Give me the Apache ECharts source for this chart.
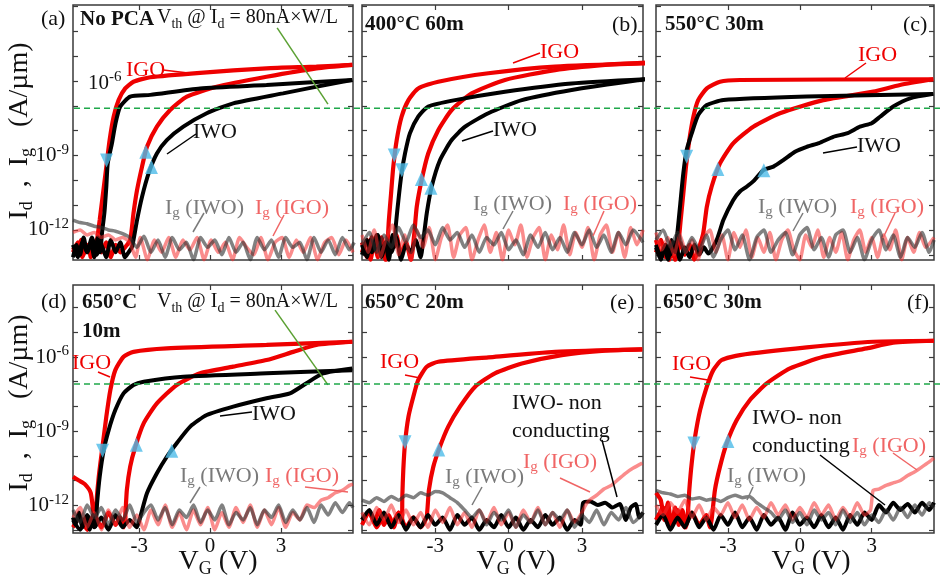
<!DOCTYPE html>
<html>
<head>
<meta charset="utf-8">
<script src="https://cdn.jsdelivr.net/npm/echarts@6/dist/echarts.min.js"></script>
<style>
  html, body { margin: 0; background: #fff; }
  #chart { width: 942px; height: 578px; }
</style>
</head>
<body>
<div id="chart"></div>
<script>
// x = V_G (V), y = log10(I / (A/µm))

// (a) No PCA
const aIgoRev = [[6.02,-5.35],[4.5,-5.42],[2.39,-5.49],[-0.42,-5.67],[-2.53,-5.85],[-3.24,-6.03],[-3.59,-6.3],[-3.87,-6.77],[-4.08,-7.44],[-4.25,-8.38],[-4.39,-9.46],[-4.53,-10.53],[-4.67,-11.6],[-4.78,-12.41],[-4.85,-13.0],[-4.95,-12.5],[-5.05,-13.1],[-5.15,-12.6],[-5.3,-12.9],[-5.45,-12.4],[-5.6,-13.0],[-5.8,-12.7]]
const aIgoFwd = [[-5.8,-12.9],[-5.6,-12.5],[-5.4,-13.1],[-5.2,-12.6],[-5.0,-13.0],[-4.8,-12.4],[-4.6,-12.9],[-4.4,-12.5],[-4.2,-13.1],[-4.0,-12.6],[-3.8,-12.9],[-3.6,-12.7],[-3.38,-12.4],[-3.24,-11.33],[-3.09,-10.4],[-2.88,-9.46],[-2.67,-8.65],[-2.25,-7.84],[-1.69,-7.17],[-0.98,-6.63],[0.28,-6.23],[2.39,-5.83],[4.5,-5.49],[6.02,-5.35]]
const aIwoRev = [[6.02,-5.96],[2.39,-6.16],[-0.42,-6.3],[-2.53,-6.56],[-3.38,-6.63],[-3.8,-7.03],[-4.0,-7.7],[-4.15,-8.5],[-4.33,-9.32],[-4.39,-10.26],[-4.47,-11.3],[-4.57,-12.1],[-4.65,-12.9],[-4.75,-12.3],[-4.9,-13.1],[-5.05,-12.5],[-5.2,-12.9],[-5.35,-12.3],[-5.5,-13.0],[-5.65,-12.6],[-5.8,-13.1]]
const aIwoFwd = [[-5.8,-12.6],[-5.6,-13.1],[-5.4,-12.5],[-5.2,-12.9],[-5.0,-12.3],[-4.8,-13.0],[-4.6,-12.6],[-4.4,-13.1],[-4.2,-12.4],[-4.0,-12.9],[-3.8,-12.5],[-3.6,-13.1],[-3.45,-12.9],[-3.3,-12.68],[-3.09,-11.6],[-2.88,-10.67],[-2.6,-9.72],[-2.25,-8.92],[-1.83,-8.38],[-1.13,-7.84],[-0.14,-7.3],[0.98,-6.9],[3.09,-6.5],[5.2,-6.1],[6.02,-5.96]]
const aIgIwo = [[-5.8,-11.6],[-5.5,-11.7],[-5.2,-11.75],[-4.9,-11.85],[-4.6,-11.9],[-4.3,-12.0],[-4.0,-12.05],[-3.7,-12.15],[-3.4,-12.3],[-3.1,-12.7],[-2.8,-12.25],[-2.5,-12.9],[-2.2,-12.4],[-1.9,-13.1],[-1.6,-12.3],[-1.3,-12.8],[-1.0,-12.5],[-0.7,-13.2],[-0.4,-12.3],[-0.1,-12.7],[0.2,-12.4],[0.5,-13.0],[0.8,-12.3],[1.1,-12.9],[1.4,-12.5],[1.7,-13.2],[2.0,-12.3],[2.3,-12.8],[2.6,-12.4],[2.9,-13.1],[3.2,-12.3],[3.5,-12.7],[3.8,-12.5],[4.1,-13.2],[4.4,-12.3],[4.7,-12.9],[5.0,-12.4],[5.3,-13.0],[5.6,-12.3],[5.9,-12.8],[6.1,-12.5]]
const aIgIgo = [[-5.8,-12.1],[-5.5,-12.0],[-5.2,-12.2],[-4.9,-12.1],[-4.6,-12.3],[-4.3,-12.2],[-4.0,-12.4],[-3.7,-12.3],[-3.4,-12.5],[-3.15,-13.1],[-2.95,-12.3],[-2.65,-13.2],[-2.35,-12.4],[-2.05,-12.9],[-1.75,-12.3],[-1.45,-13.1],[-1.15,-12.4],[-0.85,-12.8],[-0.55,-12.3],[-0.25,-13.2],[0.05,-12.4],[0.35,-12.9],[0.65,-12.5],[0.95,-13.2],[1.25,-12.3],[1.55,-12.7],[1.85,-13.0],[2.15,-12.3],[2.45,-13.2],[2.75,-12.5],[3.05,-12.3],[3.35,-13.1],[3.65,-12.4],[3.95,-12.9],[4.25,-12.3],[4.55,-13.2],[4.85,-12.5],[5.15,-12.3],[5.45,-13.0],[5.75,-12.4],[6.05,-12.9]]
const aDown = [[-4.38,-9.2]]
const aUp = [[-2.72,-8.85],[-2.48,-9.46]]
const aVthLine = [[2.84,-3.86],[4.99,-6.93]]

// (b) 400°C 60m
const bIgoRev = [[5.58,-5.29],[1.9,-5.42],[-0.83,-5.69],[-2.88,-6.03],[-3.7,-6.3],[-4.1,-6.77],[-4.38,-7.44],[-4.58,-8.38],[-4.72,-9.46],[-4.81,-10.53],[-4.9,-11.6],[-4.95,-12.41],[-5.05,-13.2],[-5.2,-12.3],[-5.35,-13.1],[-5.5,-12.5],[-5.65,-13.2],[-5.8,-12.4],[-6,-12.9]]
const bIgoFwd = [[-6,-12.5],[-5.8,-13.1],[-5.6,-12.3],[-5.4,-12.9],[-5.2,-12.4],[-5.0,-13.2],[-4.8,-12.6],[-4.6,-12.2],[-4.4,-13.0],[-4.2,-12.5],[-4.0,-13.2],[-3.86,-12.14],[-3.76,-11.07],[-3.56,-9.99],[-3.29,-8.92],[-2.88,-7.98],[-2.33,-7.17],[-1.51,-6.5],[-0.15,-5.96],[1.9,-5.56],[3.95,-5.35],[5.58,-5.26]]
const bIwoRev = [[5.58,-5.93],[2.58,-6.1],[-0.15,-6.43],[-2.19,-6.77],[-3.29,-7.03],[-3.7,-7.44],[-4.04,-8.11],[-4.24,-8.92],[-4.38,-9.72],[-4.51,-10.8],[-4.62,-11.88],[-4.67,-12.68],[-4.75,-12.2],[-4.9,-13.2],[-5.05,-12.5],[-5.2,-13.0],[-5.35,-12.2],[-5.5,-12.8],[-5.65,-12.4],[-5.8,-13.1],[-6,-12.6]]
const bIwoFwd = [[-6,-13.0],[-5.8,-12.4],[-5.6,-12.9],[-5.4,-12.2],[-5.2,-13.1],[-5.0,-12.5],[-4.8,-12.9],[-4.6,-12.3],[-4.4,-13.2],[-4.2,-12.6],[-4.0,-12.9],[-3.8,-12.4],[-3.6,-13.1],[-3.49,-12.41],[-3.35,-11.33],[-3.15,-10.26],[-2.81,-9.19],[-2.33,-8.38],[-1.78,-7.84],[-0.83,-7.3],[0.54,-6.77],[2.58,-6.36],[5.58,-5.93]]
const bIgIwo = [[-6,-12.6],[-5.7,-12.1],[-5.4,-12.9],[-5.1,-12.2],[-4.8,-12.7],[-4.5,-11.9],[-4.2,-12.5],[-3.9,-11.8],[-3.6,-12.3],[-3.3,-12.0],[-3.0,-12.6],[-2.7,-11.9],[-2.4,-12.4],[-2.1,-12.1],[-1.8,-12.7],[-1.5,-12.2],[-1.2,-12.9],[-0.9,-12.3],[-0.6,-12.6],[-0.3,-12.1],[0.0,-12.8],[0.3,-12.4],[0.6,-13.0],[0.9,-12.2],[1.2,-12.7],[1.5,-12.1],[1.8,-12.8],[2.1,-12.3],[2.4,-12.9],[2.7,-12.1],[3.0,-12.6],[3.3,-12.0],[3.6,-12.7],[3.9,-12.2],[4.2,-12.9],[4.5,-12.1],[4.8,-12.6],[5.1,-12.0],[5.5,-12.5]]
const bIgIgo = [[-6,-12.2],[-5.75,-12.9],[-5.5,-12.0],[-5.25,-13.1],[-5.0,-12.3],[-4.75,-11.8],[-4.5,-13.0],[-4.25,-12.2],[-4.0,-13.2],[-3.75,-12.0],[-3.5,-12.7],[-3.25,-11.9],[-3.0,-13.2],[-2.75,-12.3],[-2.5,-11.8],[-2.25,-13.1],[-2.0,-12.2],[-1.75,-11.9],[-1.5,-13.2],[-1.25,-12.4],[-1.0,-11.8],[-0.75,-12.9],[-0.5,-12.1],[-0.25,-13.2],[0.0,-12.0],[0.25,-12.6],[0.5,-11.8],[0.75,-13.1],[1.0,-12.3],[1.25,-11.9],[1.5,-13.2],[1.75,-12.2],[2.0,-12.8],[2.25,-11.8],[2.5,-13.0],[2.75,-12.1],[3.0,-12.7],[3.25,-11.9],[3.5,-13.2],[3.75,-12.2],[4.0,-11.8],[4.25,-12.9],[4.5,-12.1],[4.75,-13.1],[5.0,-11.9],[5.25,-12.6],[5.5,-12.0]]
const bDown = [[-4.68,-9.0],[-4.37,-9.6]]
const bUp = [[-3.57,-9.95],[-3.18,-10.3]]

// (c) 550°C 30m
const cIgoRev = [[5.57,-5.93],[-2.5,-5.96],[-3.33,-6.03],[-3.88,-6.3],[-4.24,-6.77],[-4.44,-7.44],[-4.61,-8.38],[-4.75,-9.46],[-4.86,-10.53],[-4.97,-11.6],[-5.05,-12.41],[-5.15,-13.1],[-5.3,-12.5],[-5.45,-13.2],[-5.6,-12.6],[-5.8,-13.0],[-6,-12.4]]
const cIgoFwd = [[-6,-12.9],[-5.8,-12.4],[-5.6,-13.1],[-5.4,-12.6],[-5.2,-13.2],[-5.0,-12.5],[-4.8,-13.0],[-4.6,-12.6],[-4.4,-13.2],[-4.2,-12.7],[-4.03,-12.14],[-3.88,-11.07],[-3.68,-10.26],[-3.33,-9.32],[-2.78,-8.51],[-1.94,-7.84],[-0.83,-7.3],[0.98,-6.77],[3.07,-6.43],[4.18,-6.16],[5.57,-5.93]]
const cIwoRev = [[5.57,-6.52],[0.29,-6.63],[-3.19,-6.77],[-3.88,-6.97],[-4.24,-7.37],[-4.51,-8.11],[-4.72,-8.78],[-4.86,-9.72],[-5.0,-11.07],[-5.11,-12.14],[-5.2,-12.9],[-5.35,-12.4],[-5.5,-13.2],[-5.65,-12.7],[-5.8,-13.1],[-6,-12.6]]
const cIwoFwd = [[-6,-12.7],[-5.8,-13.2],[-5.6,-12.6],[-5.4,-13.0],[-5.2,-12.5],[-5.0,-13.2],[-4.8,-12.7],[-4.6,-13.1],[-4.4,-12.6],[-4.2,-13.0],[-4.0,-12.7],[-3.82,-12.95],[-3.47,-12.41],[-3.19,-11.6],[-2.78,-10.8],[-2.5,-10.45],[-2.22,-10.26],[-1.9,-10.0],[-1.52,-9.59],[-1.1,-9.45],[-0.69,-9.19],[-0.2,-8.85],[0.29,-8.65],[0.8,-8.5],[1.4,-8.25],[2.0,-8.1],[2.51,-7.84],[3.0,-7.7],[3.35,-7.44],[3.9,-7.03],[4.6,-6.7],[5.57,-6.52]]
const cIgIwo = [[-6,-12.4],[-5.7,-12.0],[-5.4,-12.7],[-5.1,-12.1],[-4.8,-12.9],[-4.5,-12.3],[-4.2,-12.8],[-3.9,-12.2],[-3.6,-13.1],[-3.3,-12.4],[-3.0,-12.0],[-2.7,-12.8],[-2.4,-12.2],[-2.1,-13.2],[-1.8,-12.3],[-1.5,-12.0],[-1.2,-12.9],[-0.9,-12.4],[-0.6,-12.1],[-0.3,-13.0],[0.0,-12.2],[0.3,-11.9],[0.6,-12.8],[0.9,-12.3],[1.2,-13.1],[1.5,-12.2],[1.8,-12.0],[2.1,-12.9],[2.4,-12.3],[2.7,-13.2],[3.0,-12.4],[3.3,-12.0],[3.6,-12.8],[3.9,-12.2],[4.2,-13.1],[4.5,-12.3],[4.8,-12.7],[5.1,-12.1],[5.4,-12.9],[5.6,-12.4]]
const cIgIgo = [[-6,-12.1],[-5.75,-12.8],[-5.5,-12.3],[-5.25,-13.0],[-5.0,-12.2],[-4.75,-12.9],[-4.5,-12.4],[-4.25,-13.2],[-4.0,-12.3],[-3.75,-12.0],[-3.5,-12.9],[-3.25,-12.2],[-3.0,-13.2],[-2.75,-12.1],[-2.5,-12.7],[-2.25,-12.0],[-2.0,-13.1],[-1.75,-12.3],[-1.5,-12.9],[-1.25,-12.1],[-1.0,-13.2],[-0.75,-12.4],[-0.5,-12.0],[-0.25,-12.8],[0.0,-13.2],[0.25,-12.2],[0.5,-12.7],[0.75,-12.0],[1.0,-13.1],[1.25,-12.3],[1.5,-12.9],[1.75,-12.1],[2.0,-13.2],[2.25,-12.4],[2.5,-12.0],[2.75,-12.9],[3.0,-12.3],[3.25,-13.1],[3.5,-12.2],[3.75,-12.8],[4.0,-12.0],[4.25,-13.2],[4.5,-12.3],[4.75,-12.9],[5.0,-12.1],[5.25,-12.7],[5.6,-12.3]]
const cDown = [[-4.72,-9.05]]
const cUp = [[-3.42,-9.55],[-1.5,-9.6]]

// (d) 650°C 10m
const dIgoRev = [[6.02,-5.38],[2.39,-5.51],[-1.83,-5.65],[-3.24,-5.79],[-3.66,-5.99],[-4.01,-6.53],[-4.22,-7.34],[-4.39,-8.42],[-4.57,-9.77],[-4.71,-10.85],[-4.81,-11.92],[-4.85,-12.72],[-4.95,-12.2],[-5.05,-11.5],[-5.3,-11.15],[-5.55,-11.0],[-5.8,-10.85]]
const dIgoFwd = [[-5.8,-12.9],[-5.5,-12.5],[-5.2,-13.0],[-4.9,-12.4],[-4.6,-12.9],[-4.3,-12.3],[-4.0,-12.8],[-3.8,-12.5],[-3.65,-12.9],[-3.59,-12.47],[-3.52,-11.38],[-3.38,-10.44],[-3.16,-9.63],[-2.81,-8.69],[-2.25,-7.88],[-1.41,-7.13],[-0.42,-6.66],[0.98,-6.39],[2.39,-6.12],[3.52,-5.79],[4.5,-5.51],[6.02,-5.38]]
const dIwoRev = [[6.02,-6.53],[2.39,-6.66],[-1.13,-6.8],[-2.81,-7.0],[-3.24,-7.13],[-3.66,-7.47],[-4.01,-8.15],[-4.29,-8.96],[-4.5,-9.77],[-4.67,-10.85],[-4.78,-11.92],[-4.85,-12.87],[-4.95,-12.4],[-5.1,-13.0],[-5.25,-12.5],[-5.4,-12.9],[-5.55,-12.3],[-5.7,-12.8],[-5.8,-12.5]]
const dIwoFwd = [[-5.8,-12.6],[-5.5,-13.0],[-5.2,-12.4],[-4.9,-12.9],[-4.6,-12.5],[-4.3,-13.0],[-4.0,-12.4],[-3.7,-12.9],[-3.4,-12.6],[-3.1,-12.9],[-2.95,-12.47],[-2.67,-11.52],[-2.25,-10.71],[-1.83,-10.04],[-1.41,-9.49],[-0.84,-8.82],[-0.14,-8.35],[0.98,-8.01],[2.39,-7.67],[3.38,-7.47],[4.08,-7.06],[4.78,-6.66],[6.02,-6.46]]
const dIgIwo = [[-5.8,-12.2],[-5.5,-12.7],[-5.2,-12.0],[-4.9,-12.5],[-4.6,-12.1],[-4.3,-12.8],[-4.0,-12.2],[-3.7,-12.6],[-3.4,-12.0],[-3.1,-12.7],[-2.8,-12.3],[-2.5,-12.0],[-2.2,-12.6],[-1.9,-12.1],[-1.6,-12.8],[-1.3,-12.2],[-1.0,-12.5],[-0.7,-12.0],[-0.4,-12.7],[-0.1,-12.2],[0.2,-12.6],[0.5,-12.0],[0.8,-12.8],[1.1,-12.3],[1.4,-12.6],[1.7,-12.1],[2.0,-12.8],[2.3,-12.2],[2.6,-12.5],[2.9,-12.0],[3.2,-12.7],[3.5,-12.2],[3.8,-12.6],[4.1,-12.1],[4.4,-12.7],[4.7,-12.0],[5.0,-12.4],[5.3,-11.9],[5.6,-12.3],[5.9,-11.9],[6.05,-12.1]]
const dIgIgo = [[-5.8,-12.5],[-5.5,-12.1],[-5.2,-12.9],[-4.9,-12.3],[-4.6,-13.0],[-4.3,-12.2],[-4.0,-12.8],[-3.7,-12.1],[-3.4,-12.9],[-3.1,-12.4],[-2.8,-13.0],[-2.5,-12.2],[-2.2,-12.8],[-1.9,-12.0],[-1.6,-12.9],[-1.3,-12.3],[-1.0,-13.0],[-0.7,-12.2],[-0.4,-12.8],[-0.1,-12.1],[0.2,-13.0],[0.5,-12.3],[0.8,-12.9],[1.1,-12.1],[1.4,-12.7],[1.7,-12.0],[2.0,-12.9],[2.3,-12.2],[2.6,-12.8],[2.9,-12.1],[3.2,-12.9],[3.5,-12.3],[3.8,-12.6],[4.1,-12.0],[4.4,-12.1],[4.7,-11.8],[5.0,-11.7],[5.3,-11.5],[5.6,-11.4],[5.9,-11.2],[6.05,-11.15]]
const dDown = [[-4.55,-9.8]]
const dUp = [[-3.12,-9.55],[-1.62,-9.8]]
const dVthLine = [[2.75,-4.1],[4.99,-7.13]]

// (e) 650°C 20m
const eIgoRev = [[5.47,-5.69],[1.9,-5.79],[-0.83,-6.01],[-2.88,-6.19],[-3.35,-6.39],[-3.7,-6.93],[-3.9,-7.61],[-4.1,-8.42],[-4.24,-9.49],[-4.31,-10.57],[-4.35,-11.66],[-4.37,-12.73],[-4.5,-12.3],[-4.7,-12.9],[-4.9,-12.4],[-5.1,-12.8],[-5.3,-12.2],[-5.5,-12.7],[-5.7,-12.3],[-6,-12.6]]
const eIgoFwd = [[-6,-12.8],[-5.7,-12.3],[-5.4,-12.9],[-5.1,-12.4],[-4.8,-12.8],[-4.5,-12.3],[-4.2,-12.9],[-3.9,-12.5],[-3.6,-12.9],[-3.45,-12.7],[-3.35,-12.47],[-3.26,-11.38],[-3.08,-10.44],[-2.81,-9.63],[-2.47,-8.82],[-1.99,-8.01],[-1.37,-7.2],[-0.56,-6.66],[0.54,-6.26],[2.18,-5.92],[3.95,-5.74],[5.47,-5.69]]
const eIwo = [[-6,-12.6],[-5.7,-12.2],[-5.4,-12.8],[-5.1,-12.3],[-4.8,-12.9],[-4.5,-12.4],[-4.2,-13.0],[-3.9,-12.5],[-3.6,-12.9],[-3.3,-12.4],[-3.0,-12.8],[-2.7,-12.5],[-2.4,-13.0],[-2.1,-12.4],[-1.8,-12.8],[-1.5,-12.5],[-1.2,-13.0],[-0.9,-12.6],[-0.6,-12.9],[-0.3,-12.4],[0.0,-12.9],[0.3,-12.5],[0.6,-13.0],[0.9,-12.6],[1.2,-12.9],[1.5,-12.4],[1.8,-12.8],[2.1,-12.5],[2.4,-13.0],[2.7,-12.6],[2.95,-12.8],[3.05,-11.9],[3.35,-11.85],[3.65,-12.0],[3.95,-11.9],[4.25,-12.1],[4.55,-11.95],[4.8,-12.6],[5.0,-12.1],[5.2,-11.95],[5.35,-12.5],[5.5,-12.3]]
const eIgIwo = [[-6,-11.8],[-5.7,-11.9],[-5.4,-11.7],[-5.1,-11.85],[-4.8,-11.65],[-4.5,-11.8],[-4.2,-11.6],[-3.9,-11.7],[-3.6,-11.5],[-3.3,-11.6],[-3.0,-11.45],[-2.7,-11.5],[-2.4,-11.7],[-2.1,-11.9],[-1.8,-12.2],[-1.5,-12.5],[-1.2,-12.2],[-0.9,-12.8],[-0.6,-12.3],[-0.3,-12.6],[0.0,-12.2],[0.3,-12.9],[0.6,-12.4],[0.9,-12.7],[1.2,-12.2],[1.5,-12.8],[1.8,-12.3],[2.1,-12.6],[2.4,-12.2],[2.7,-12.9],[3.0,-12.4],[3.3,-12.7],[3.6,-12.2],[3.9,-12.8],[4.2,-12.3],[4.5,-12.6],[4.8,-12.1],[5.1,-12.7],[5.5,-12.3]]
const eIgIgo = [[-6,-12.3],[-5.7,-12.8],[-5.4,-12.1],[-5.1,-12.6],[-4.8,-12.0],[-4.5,-12.7],[-4.2,-12.2],[-3.9,-12.8],[-3.6,-12.3],[-3.3,-12.9],[-3.0,-12.2],[-2.7,-12.7],[-2.4,-12.1],[-2.1,-12.8],[-1.8,-12.3],[-1.5,-12.9],[-1.2,-12.2],[-0.9,-12.7],[-0.6,-12.1],[-0.3,-12.8],[0.0,-12.3],[0.3,-12.9],[0.6,-12.2],[0.9,-12.7],[1.2,-12.1],[1.5,-12.8],[1.8,-12.3],[2.1,-12.9],[2.4,-12.2],[2.7,-12.7],[3.0,-12.3],[3.15,-12.0],[3.3,-11.8],[3.6,-11.6],[3.9,-11.35],[4.2,-11.2],[4.5,-10.95],[4.8,-10.7],[5.1,-10.5],[5.47,-10.3]]
const eDown = [[-4.24,-9.45]]
const eUp = [[-2.86,-9.75]]

// (f) 650°C 30m
const fIgoRev = [[5.6,-5.34],[3.07,-5.38],[0.29,-5.61],[-2.5,-5.92],[-3.26,-6.12],[-3.61,-6.53],[-3.88,-7.2],[-4.16,-8.15],[-4.37,-9.23],[-4.51,-10.3],[-4.61,-11.38],[-4.68,-12.47],[-4.75,-12.9],[-4.9,-12.2],[-5.05,-12.8],[-5.2,-12.1],[-5.35,-12.9],[-5.5,-11.9],[-5.65,-12.6],[-5.8,-11.8],[-6,-11.5]]
const fIgoFwd = [[-6,-12.6],[-5.7,-12.1],[-5.4,-12.8],[-5.1,-12.2],[-4.8,-12.9],[-4.5,-12.3],[-4.2,-12.8],[-3.9,-12.4],[-3.75,-12.9],[-3.68,-12.6],[-3.54,-11.38],[-3.33,-10.44],[-3.05,-9.49],[-2.63,-8.55],[-2.08,-7.74],[-1.38,-7.07],[-0.41,-6.46],[0.98,-5.99],[2.79,-5.65],[3.9,-5.42],[5.6,-5.34]]
const fIwo = [[-6,-12.8],[-5.7,-12.4],[-5.4,-13.0],[-5.1,-12.5],[-4.8,-12.9],[-4.5,-12.3],[-4.2,-12.9],[-3.9,-12.5],[-3.6,-13.0],[-3.3,-12.4],[-3.0,-12.8],[-2.7,-12.3],[-2.4,-12.9],[-2.1,-12.5],[-1.8,-13.0],[-1.5,-12.4],[-1.2,-12.8],[-0.9,-12.5],[-0.6,-13.0],[-0.3,-12.3],[0.0,-12.8],[0.3,-12.5],[0.6,-12.9],[0.9,-12.4],[1.2,-12.9],[1.5,-12.5],[1.8,-13.0],[2.1,-12.4],[2.4,-12.8],[2.7,-12.3],[3.0,-12.6],[3.3,-12.0],[3.6,-12.3],[3.9,-11.9],[4.2,-12.2],[4.5,-11.95],[4.8,-12.3],[5.1,-11.9],[5.4,-12.2],[5.6,-11.9]]
const fIgIwo = [[-6,-11.4],[-5.7,-11.5],[-5.4,-11.55],[-5.1,-11.65],[-4.8,-11.6],[-4.5,-11.75],[-4.2,-11.7],[-3.9,-11.8],[-3.6,-11.75],[-3.3,-11.85],[-3.0,-11.7],[-2.7,-11.6],[-2.4,-11.7],[-2.1,-11.65],[-1.8,-11.9],[-1.5,-12.1],[-1.2,-12.3],[-0.9,-12.6],[-0.6,-12.2],[-0.3,-12.7],[0.0,-12.3],[0.3,-12.8],[0.6,-12.2],[0.9,-12.6],[1.2,-12.3],[1.5,-12.8],[1.8,-12.2],[2.1,-12.7],[2.4,-12.3],[2.7,-12.8],[3.0,-12.4],[3.3,-12.7],[3.6,-12.2],[3.9,-12.6],[4.2,-12.1],[4.5,-12.5],[4.8,-12.0],[5.1,-12.4],[5.4,-11.9],[5.6,-12.1]]
const fIgIgo = [[-6,-12.0],[-5.7,-12.4],[-5.4,-11.9],[-5.1,-12.3],[-4.8,-11.8],[-4.5,-12.5],[-4.2,-12.0],[-3.9,-12.6],[-3.6,-12.1],[-3.3,-12.4],[-3.0,-11.9],[-2.7,-12.5],[-2.4,-12.0],[-2.1,-12.6],[-1.8,-12.1],[-1.5,-12.5],[-1.2,-11.9],[-0.9,-12.4],[-0.6,-12.0],[-0.3,-12.6],[0.0,-12.1],[0.3,-12.5],[0.6,-11.9],[0.9,-12.4],[1.2,-12.0],[1.5,-12.6],[1.8,-12.1],[2.1,-12.5],[2.4,-11.9],[2.7,-12.4],[2.95,-12.2],[3.06,-11.4],[3.3,-11.35],[3.6,-11.2],[3.9,-11.1],[4.2,-11.0],[4.5,-10.8],[4.8,-10.65],[5.1,-10.45],[5.4,-10.25],[5.6,-10.1]]
const fDown = [[-4.42,-9.5]]
const fUp = [[-3.0,-9.4]]

// threshold criterion: I_d = 80 nA x W/L
const vthLogI = Math.log10(80e-9)

const xTicks = [-3, 0, 3]
const yTicks = [-13, -12, -11, -10, -9, -8, -7, -6, -5, -4, -3]

const SERIF = "'Liberation Serif','DejaVu Serif',serif"
const RED = '#ee0000'
const CYAN = '#4dbbe8'
const GREEN = '#1fa84a'

const RICH = {
  m: { fontFamily: SERIF, fontSize: 22, lineHeight: 26 },
  b: { fontFamily: SERIF, fontSize: 21, fontWeight: 'bold', lineHeight: 26 },
  sub: { fontFamily: SERIF, fontSize: 15, lineHeight: 14, verticalAlign: 'bottom' },
  v: { fontFamily: SERIF, fontSize: 20, lineHeight: 26 },
  vs: { fontFamily: SERIF, fontSize: 14, lineHeight: 14, verticalAlign: 'bottom' },
  t: { fontFamily: SERIF, fontSize: 28, lineHeight: 32 },
  ts: { fontFamily: SERIF, fontSize: 18, lineHeight: 16, verticalAlign: 'bottom' },
  n: { fontFamily: SERIF, fontSize: 21, lineHeight: 26 },
  sup: { fontFamily: SERIF, fontSize: 15, lineHeight: 14, verticalAlign: 'top' }
}

// panel frames (px) and axis ranges
const layout = [
  { left: 73, top: 5, width: 280, height: 255, xr: [-5.8, 6.05], yr: [-13.21, -2.94], yLabels: [-12, -9] },
  { left: 362, top: 5, width: 281, height: 255, xr: [-6, 5.5], yr: [-13.21, -2.94] },
  { left: 656, top: 5, width: 278, height: 255, xr: [-6, 5.6], yr: [-13.21, -2.94] },
  { left: 73, top: 285, width: 280, height: 248, xr: [-5.8, 6.05], yr: [-13.13, -3.08], yLabels: [-12, -9, -6], xLabels: true },
  { left: 362, top: 285, width: 281, height: 248, xr: [-6, 5.5], yr: [-13.13, -3.08], xLabels: true },
  { left: 656, top: 285, width: 278, height: 248, xr: [-6, 5.6], yr: [-13.13, -3.08], xLabels: true }
]

const panels = [
  { red: [aIgoRev, aIgoFwd], black: [aIwoRev, aIwoFwd], igIgo: aIgIgo, igIwo: aIgIwo, down: aDown, up: aUp, vth: aVthLine },
  { red: [bIgoRev, bIgoFwd], black: [bIwoRev, bIwoFwd], igIgo: bIgIgo, igIwo: bIgIwo, down: bDown, up: bUp },
  { red: [cIgoRev, cIgoFwd], black: [cIwoRev, cIwoFwd], igIgo: cIgIgo, igIwo: cIgIwo, down: cDown, up: cUp },
  { red: [dIgoRev, dIgoFwd], black: [dIwoRev, dIwoFwd], igIgo: dIgIgo, igIwo: dIgIwo, down: dDown, up: dUp, vth: dVthLine },
  { red: [eIgoRev, eIgoFwd], black: [eIwo], igIgo: eIgIgo, igIwo: eIgIwo, down: eDown, up: eUp },
  { red: [fIgoRev, fIgoFwd], black: [fIwo], igIgo: fIgIgo, igIwo: fIgIwo, down: fDown, up: fUp }
]

const grid = [], xAxis = [], yAxis = [], series = []
const tickStyle = { inside: true, length: 5, lineStyle: { color: '#3a3a3a', width: 1.2 } }
const noLine = { show: false, onZero: false }

layout.forEach((L, i) => {
  grid.push({ left: L.left, top: L.top, width: L.width, height: L.height, show: true, borderColor: '#3a3a3a', borderWidth: 1.5 })
  const xBase = { gridIndex: i, type: 'value', min: L.xr[0], max: L.xr[1], axisLine: noLine, splitLine: { show: false },
    axisTick: Object.assign({ customValues: xTicks }, tickStyle) }
  xAxis.push(Object.assign({}, xBase, { position: 'bottom',
    axisLabel: { show: !!L.xLabels, customValues: xTicks, margin: 3, color: '#111', fontFamily: SERIF, fontSize: 21 } }))
  xAxis.push(Object.assign({}, xBase, { position: 'top', axisLabel: { show: false } }))
  const yBase = { gridIndex: i, type: 'value', min: L.yr[0], max: L.yr[1], axisLine: noLine, splitLine: { show: false },
    axisTick: Object.assign({ customValues: yTicks }, tickStyle) }
  yAxis.push(Object.assign({}, yBase, { position: 'left',
    axisLabel: { show: !!L.yLabels, customValues: L.yLabels || [], margin: 4, color: '#111',
      formatter: v => '{n|10}{sup|' + v + '}', rich: RICH } }))
  yAxis.push(Object.assign({}, yBase, { position: 'right', axisLabel: { show: false } }))
})

function line(i, data, color, width, z) {
  return { type: 'line', xAxisIndex: 2 * i, yAxisIndex: 2 * i, data, symbol: 'none', smooth: 0.2,
    lineStyle: { color, width }, z, silent: true }
}
function arrows(i, data, rot) {
  return { type: 'scatter', xAxisIndex: 2 * i, yAxisIndex: 2 * i, data, symbol: 'triangle', symbolSize: [13, 14],
    symbolRotate: rot, itemStyle: { color: CYAN }, z: 6, silent: true }
}

panels.forEach((p, i) => {
  p.red.forEach(d => series.push(line(i, d, RED, 4.2, 2)))
  p.black.forEach(d => series.push(line(i, d, '#000', 4, 3)))
  series.push(line(i, p.igIgo, 'rgba(245,45,45,0.55)', 3.5, 4))
  series.push(line(i, p.igIwo, 'rgba(45,45,45,0.6)', 3.5, 4))
  series.push(arrows(i, p.down, 180))
  series.push(arrows(i, p.up, 0))
  if (p.vth) series.push(Object.assign(line(i, p.vth, '#5aa032', 1.5, 5), { smooth: false }))
})

// dashed 80 nA line runs across each whole row
;[[5, 255, -13.21, -2.94], [285, 248, -13.13, -3.08]].forEach(r => {
  const gi = grid.length
  grid.push({ left: 74, width: 866, top: r[0], height: r[1], show: false })
  xAxis.push({ gridIndex: gi, type: 'value', min: 0, max: 1, show: false })
  yAxis.push({ gridIndex: gi, type: 'value', min: r[2], max: r[3], show: false })
  series.push({ type: 'line', xAxisIndex: xAxis.length - 1, yAxisIndex: yAxis.length - 1, data: [[0, vthLogI], [1, vthLogI]],
    symbol: 'none', lineStyle: { color: GREEN, width: 1.5, type: [6, 4] }, z: 5, silent: true })
})

function label(x, y, text, color) {
  return { type: 'text', x, y, z: 100, style: { text, fill: color || '#111', align: 'left', verticalAlign: 'middle', rich: RICH } }
}
function lead(x1, y1, x2, y2, color) {
  return { type: 'line', z: 100, shape: { x1, y1, x2, y2 }, style: { stroke: color, lineWidth: 1.5 } }
}
const VTH = '{v|V}{vs|th}{v| @ I}{vs|d}{v| = 80nA×W/L}'
const IG_IWO = '{m|I}{sub|g}{m| (IWO)}'
const IG_IGO = '{m|I}{sub|g}{m| (IGO)}'
const GRAY = '#7a7a7a', PINK = '#f06565'

const graphic = [
  // (a)
  label(41, 19, '{m|(a)}'), label(80, 20, '{b|No PCA}'), label(157, 18, VTH),
  label(126, 70, '{m|IGO}', RED), lead(163, 70, 197, 74, RED),
  label(193, 132, '{m|IWO}'), lead(167, 154, 196, 134, '#000'),
  label(165, 208, IG_IWO, GRAY), lead(193, 232, 204, 213, GRAY),
  label(255, 208, IG_IGO, PINK), lead(273, 236, 284, 215, PINK),
  label(88, 83, '{n|10}{sup|-6}'),
  // (b)
  label(365, 25, '{b|400°C 60m}'), label(612, 25, '{m|(b)}'),
  label(540, 52, '{m|IGO}', RED), lead(513, 63, 540, 53, RED),
  label(493, 130, '{m|IWO}'), lead(462, 141, 493, 131, '#000'),
  label(473, 204, IG_IWO, GRAY), lead(503, 229, 513, 211, GRAY),
  label(563, 204, IG_IGO, PINK), lead(593, 236, 604, 211, PINK),
  // (c)
  label(665, 25, '{b|550°C 30m}'), label(903, 25, '{m|(c)}'),
  label(858, 55, '{m|IGO}', RED), lead(845, 78, 866, 63, RED),
  label(857, 146, '{m|IWO}'), lead(823, 153, 857, 147, '#000'),
  label(758, 207, IG_IWO, GRAY), lead(793, 231, 803, 213, GRAY),
  label(850, 207, IG_IGO, PINK), lead(883, 238, 895, 213, PINK),
  // (d)
  label(41, 302, '{m|(d)}'), label(82, 303, '{b|650°C}'), label(82, 332, '{b|10m}'), label(157, 302, VTH),
  label(72, 363, '{m|IGO}', RED), lead(98, 372, 110, 377, RED),
  label(252, 414, '{m|IWO}'), lead(220, 416, 252, 412, '#000'),
  label(180, 476, IG_IWO, GRAY), lead(190, 503, 200, 487, GRAY),
  label(265, 476, IG_IGO, PINK), lead(305, 487, 348, 492, PINK),
  // (e)
  label(365, 303, '{b|650°C 20m}'), label(610, 303, '{m|(e)}'),
  label(380, 362, '{m|IGO}', RED), lead(405, 375, 420, 378, RED),
  label(512, 403, '{m|IWO- non}'), label(512, 431, '{m|conducting}'), lead(602, 440, 617, 497, '#000'),
  label(523, 462, IG_IGO, PINK), lead(560, 478, 590, 492, PINK),
  label(445, 477, IG_IWO, GRAY), lead(472, 505, 482, 487, GRAY),
  // (f)
  label(663, 303, '{b|650°C 30m}'), label(907, 303, '{m|(f)}'),
  label(672, 364, '{m|IGO}', RED), lead(690, 377, 708, 380, RED),
  label(752, 418, '{m|IWO- non}'), label(752, 446, '{m|conducting}'), lead(820, 455, 885, 505, '#000'),
  label(852, 446, IG_IGO, PINK), lead(893, 453, 917, 470, PINK),
  label(727, 476, IG_IWO, GRAY), lead(747, 500, 753, 487, GRAY)
]

// axis titles
const YT = '{t|I}{ts|d}{t|  ,  I}{ts|g}{t|   (A/µm)}'
const XT = '{t|V}{ts|G}{t| (V)}'
;[131, 403].forEach(y => graphic.push({ type: 'text', x: 20, y, rotation: Math.PI / 2, z: 100,
  style: { text: YT, fill: '#111', align: 'center', verticalAlign: 'middle', rich: RICH } }))
;[218, 516, 811].forEach(x => graphic.push({ type: 'text', x, y: 562, z: 100,
  style: { text: XT, fill: '#111', align: 'center', verticalAlign: 'middle', rich: RICH } }))

const chart = echarts.init(document.getElementById('chart'))
chart.setOption({ animation: false, backgroundColor: '#fff', grid, xAxis, yAxis, series, graphic })
</script>
</body>
</html>
